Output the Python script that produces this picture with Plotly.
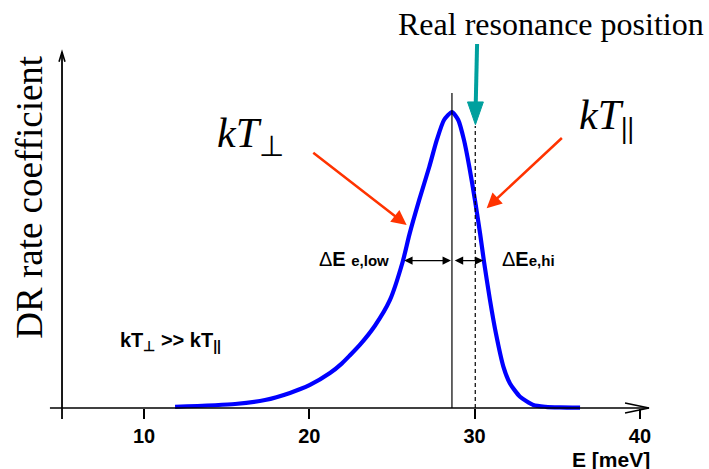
import plotly.graph_objects as go

# Dielectronic-recombination rate profile (arbitrary units, peak normalised to 1)
energy = [11.88, 15.51, 17.32, 18.83, 20.04, 21.25, 21.96, 22.46, 23.07, 23.97,
          24.88, 25.65, 26.05, 26.65, 27.26, 27.71, 28.15, 28.63, 29.01, 29.36,
          29.68, 30.02, 30.33, 30.57, 30.93, 31.29, 31.74, 32.14, 32.75, 33.55,
          34.30, 35.16, 36.38]
rate = [0.004, 0.0135, 0.027, 0.051, 0.078, 0.118, 0.150, 0.178, 0.214, 0.278,
        0.365, 0.494, 0.585, 0.703, 0.815, 0.905, 0.973, 1.0, 0.973, 0.905,
        0.815, 0.703, 0.590, 0.494, 0.365, 0.252, 0.140, 0.083, 0.038, 0.010,
        0.004, 0.002, 0.001]

tick_values = [10, 20, 30, 40]
tick_labels = ["10", "20", "30", "40"]

peak_energy = 28.63        # observed maximum
resonance_energy = 30.04   # true resonance position
half_level = 0.498         # level of the ΔE markers
low_edge, high_edge = 25.65, 30.53

# axis geometry in data units
x_range = [1.289, 44.18]
y_range = [-0.2061, 1.3784]
x_axis_start, x_axis_end = 4.31, 40.55
y_axis_x, y_axis_bottom, y_axis_top = 5.04, -0.037, 1.2027

RED = "#FF3300"
TEAL = "#00A09E"
BLUE = "#0000FF"

fig = go.Figure()
fig.add_trace(go.Scatter(
    x=energy, y=rate, mode="lines",
    line=dict(color=BLUE, width=4.2, shape="spline", smoothing=0.6),
    hoverinfo="skip", showlegend=False,
))

shapes = [
    # x axis with open arrow head
    dict(type="line", x0=x_axis_start, x1=x_axis_end, y0=0, y1=0,
         line=dict(color="black", width=1.6)),
    dict(type="path", path=f"M39.10,0.0169 L{x_axis_end},0 L39.10,-0.0169",
         line=dict(color="black", width=1.6)),
    # y axis with open arrow head
    dict(type="line", x0=y_axis_x, x1=y_axis_x, y0=y_axis_bottom, y1=y_axis_top,
         line=dict(color="black", width=1.8)),
    dict(type="path",
         path=f"M{y_axis_x - 0.18},1.170 L{y_axis_x},{y_axis_top} L{y_axis_x + 0.18},1.170",
         line=dict(color="black", width=1.6)),
    # peak marker and real resonance marker
    dict(type="line", x0=peak_energy, x1=peak_energy, y0=0, y1=1.064,
         line=dict(color="black", width=1.2)),
    dict(type="line", x0=resonance_energy, x1=resonance_energy, y0=0, y1=0.953,
         line=dict(color="black", width=1.2, dash="4px,3px")),
    # teal arrow towards the real resonance
    dict(type="line", x0=30.15, x1=30.07, y0=1.2297, y1=1.03,
         line=dict(color=TEAL, width=4)),
    dict(type="path", path="M29.57,1.034 L30.53,1.034 L30.05,0.957 Z",
         fillcolor=TEAL, line=dict(color=TEAL, width=1)),
]

annotations = [
    # red arrows pointing at the flanks
    dict(x=25.89, y=0.618, ax=20.15, ay=0.866, xref="x", yref="y", axref="x", ayref="y",
         text="", showarrow=True, arrowhead=2, arrowsize=1.2, arrowwidth=2.5,
         arrowcolor=RED),
    dict(x=30.73, y=0.675, ax=35.37, ay=0.917, xref="x", yref="y", axref="x", ayref="y",
         text="", showarrow=True, arrowhead=2, arrowsize=1.2, arrowwidth=2.5,
         arrowcolor=RED),
    # ΔE width markers
    dict(x=peak_energy - 0.06, y=half_level, ax=low_edge, ay=half_level,
         xref="x", yref="y", axref="x", ayref="y", text="", showarrow=True,
         arrowhead=2, arrowside="end+start", arrowsize=1.4, arrowwidth=1.2,
         arrowcolor="black"),
    dict(x=high_edge, y=half_level, ax=peak_energy + 0.08, ay=half_level,
         xref="x", yref="y", axref="x", ayref="y", text="", showarrow=True,
         arrowhead=2, arrowside="end+start", arrowsize=1.4, arrowwidth=1.2,
         arrowcolor="black"),
]

serif = "Liberation Serif"
sans = "Liberation Sans"


def label(text, x, y, size, family, xanchor="left", angle=0):
    return dict(text=text, x=x, y=y, xref="paper", yref="paper", showarrow=False,
                xanchor=xanchor, yanchor="middle", textangle=angle,
                font=dict(family=family, size=size, color="black"))


annotations += [
    label("Real resonance position", 0.7765, 0.9478, 32, serif, xanchor="center"),
    label("DR rate coefficient", 0.0412, 0.581, 37, serif, xanchor="center", angle=-90),
    label("<i>kT</i><sub>⊥</sub>", 0.3032, 0.7102, 42, serif),
    label("<i>kT</i><sub><b>||</b></sub>", 0.8138, 0.7486, 42, serif),
    label("<b>kT<sub>⊥</sub> &gt;&gt; kT<sub>||</sub></b>", 0.1664, 0.2716, 20, sans),
    label("Δ<b>E</b> <b><span style='font-size:15px'>e,low</span></b>",
          0.4471, 0.4477, 20, sans),
    label("Δ<b>E</b><b><span style='font-size:15px'>e,hi</span></b>",
          0.7052, 0.4477, 20, sans),
    label("<b>E [meV]</b>", 0.804, 0.0198, 21, sans),
]

fig.update_layout(
    width=709, height=469,
    margin=dict(l=0, r=0, t=0, b=0),
    paper_bgcolor="white", plot_bgcolor="white",
    shapes=shapes, annotations=annotations,
    xaxis=dict(range=x_range, domain=[0, 1], anchor="free", position=61 / 469,
               showline=False, zeroline=False, showgrid=False,
               ticks="outside", ticklen=10, tickwidth=1.5, tickcolor="black",
               tickvals=tick_values, ticktext=[f"<b>{t}</b>" for t in tick_labels],
               tickfont=dict(family=sans, size=20, color="black"),
               fixedrange=True),
    yaxis=dict(range=y_range, domain=[0, 1], visible=False, fixedrange=True),
    showlegend=False,
)

fig.write_html("out.html")
